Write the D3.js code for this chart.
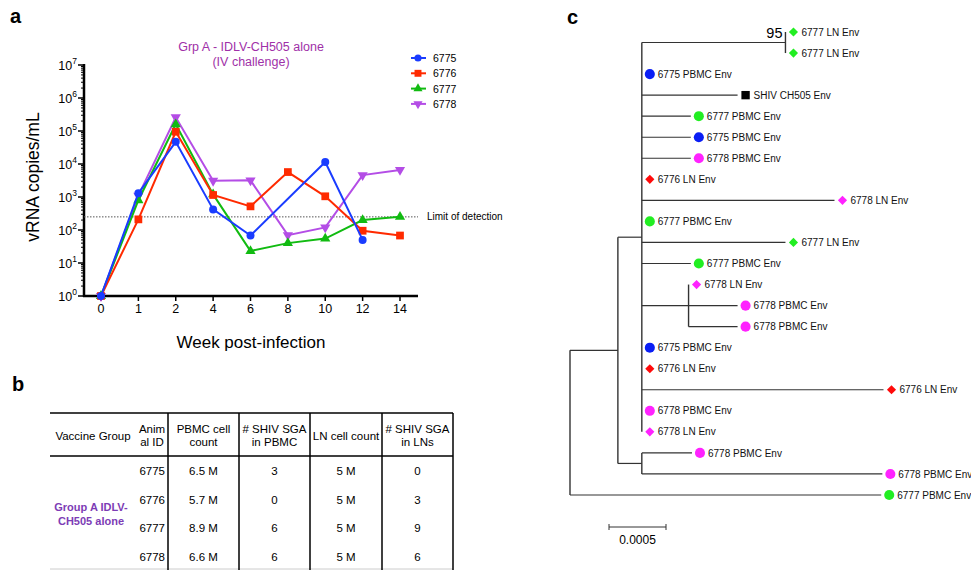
<!DOCTYPE html>
<html>
<head>
<meta charset="utf-8">
<script src="https://cdn.jsdelivr.net/npm/d3@7"></script>
<style>
  body { margin: 0; background: #fff; }
  svg { font-family: Arial, "Liberation Sans", sans-serif; }
</style>
</head>
<body>
<div id="chart"></div>
<script>
var width = 971;
var height = 570;

// ---- panel a data (vRNA copies/mL, null = not measured)
var weeks = ["0", "1", "2", "4", "6", "8", "10", "12", "14"];
var animals = ["6775", "6776", "6777", "6778"];
var v6775 = [1, 1300, 47000, 420, 68, null, 11500, 50, null];
var v6776 = [1, 210, 95000, 1150, 520, 5700, 1050, 95, 68];
var v6777 = [1, 800, 160000, 1200, 23, 40, 55, 200, 250];
var v6778 = [1, 1100, 260000, 3100, 3200, 70, 120, 4600, 6600];
var limitOfDetection = 250;
var yTicks = [1, 10, 100, 1000, 10000, 100000, 1000000, 10000000];

// ---- panel b data
var tableHeaders = [["Vaccine Group"], ["Anim", "al ID"], ["PBMC cell", "count"], ["# SHIV SGA", "in PBMC"], ["LN cell count"], ["# SHIV SGA", "in LNs"]];
var animalIds = ["6775", "6776", "6777", "6778"];
var pbmcCounts = ["6.5 M", "5.7 M", "8.9 M", "6.6 M"];
var pbmcSga = ["3", "0", "6", "6"];
var lnCounts = ["5 M", "5 M", "5 M", "5 M"];
var lnSga = ["0", "3", "9", "6"];
var groupLabel = ["Group A IDLV-", "CH505 alone"];

// ---- panel c data: tips in top-to-bottom order, tree with branch lengths
var tipNames = ["6777 LN Env", "6777 LN Env", "6775 PBMC Env", "SHIV CH505 Env", "6777 PBMC Env",
  "6775 PBMC Env", "6778 PBMC Env", "6776 LN Env", "6778 LN Env", "6777 PBMC Env", "6777 LN Env",
  "6777 PBMC Env", "6778 LN Env", "6778 PBMC Env", "6778 PBMC Env", "6775 PBMC Env", "6776 LN Env",
  "6776 LN Env", "6778 PBMC Env", "6778 LN Env", "6778 PBMC Env", "6778 PBMC Env", "6777 PBMC Env"];
var tree = { len: 0, children: [
  { len: 0.00042, children: [
    { len: 0.00021, children: [
      { len: 0.00126, support: "95", children: [{ len: 0, tip: 0 }, { len: 0, tip: 1 }] },
      { len: 0, tip: 2 },
      { len: 0.00084, tip: 3 },
      { len: 0.00043, tip: 4 },
      { len: 0.00043, tip: 5 },
      { len: 0.00043, tip: 6 },
      { len: 0, tip: 7 },
      { len: 0.00169, tip: 8 },
      { len: 0, tip: 9 },
      { len: 0.00126, tip: 10 },
      { len: 0.00043, tip: 11 },
      { len: 0.00041, children: [{ len: 0, tip: 12 }, { len: 0.00043, tip: 13 }, { len: 0.00043, tip: 14 }] },
      { len: 0, tip: 15 },
      { len: 0, tip: 16 },
      { len: 0.00212, tip: 17 },
      { len: 0, tip: 18 },
      { len: 0, tip: 19 }
    ] },
    { len: 0.00021, children: [{ len: 0.00044, tip: 20 }, { len: 0.00211, tip: 21 }] }
  ] },
  { len: 0.00273, tip: 22 }
] };

var animalColor = { "6775": "#0a1ef5", "6776": "#ff0a0a", "6777": "#22ee22", "6778": "#ff22ff", "SHIV": "#000" };

var svg = d3.select("#chart").append("svg")
  .attr("width", width)
  .attr("height", height);

// panel letters
[["a", 10, 23], ["b", 12, 391], ["c", 567, 24]].forEach(function(p) {
  svg.append("text").attr("x", p[1]).attr("y", p[2])
    .style("font-size", "20px").style("font-weight", "bold").text(p[0]);
});

// ================= panel a =================
var x = d3.scalePoint().domain(weeks).range([101, 400]);
var y = d3.scaleLog().domain([1, 1e7]).range([296, 65]);
var axisLeft = 84, axisRight = 418;

var ga = svg.append("g");

// y axis with minor log ticks
var minor = [];
for (var d = 0; d < 7; d++) for (var m = 2; m <= 9; m++) minor.push(m * Math.pow(10, d));
ga.selectAll(".minor").data(minor).enter().append("line")
  .attr("x1", axisLeft - 3).attr("x2", axisLeft)
  .attr("y1", function(v) { return y(v); }).attr("y2", function(v) { return y(v); })
  .attr("stroke", "#000").attr("stroke-width", 1);
ga.selectAll(".major").data(yTicks).enter().append("line")
  .attr("x1", axisLeft - 6).attr("x2", axisLeft)
  .attr("y1", function(v) { return y(v); }).attr("y2", function(v) { return y(v); })
  .attr("stroke", "#000").attr("stroke-width", 1.5);
var yl = ga.selectAll(".ylab").data(yTicks).enter().append("text")
  .attr("x", axisLeft - 7).attr("y", function(v) { return y(v) + 5; })
  .attr("text-anchor", "end").style("font-size", "12.5px");
yl.append("tspan").text("10");
yl.append("tspan").attr("dy", -6).style("font-size", "8.5px").text(function(v) { return Math.round(Math.log10(v)); });

ga.append("line").attr("x1", axisLeft).attr("x2", axisLeft).attr("y1", 64).attr("y2", 297)
  .attr("stroke", "#000").attr("stroke-width", 2.5);

// x axis
ga.append("line").attr("x1", axisLeft - 1).attr("x2", axisRight).attr("y1", 296).attr("y2", 296)
  .attr("stroke", "#000").attr("stroke-width", 2.5);
ga.selectAll(".xt").data(weeks).enter().append("line")
  .attr("x1", function(w) { return x(w); }).attr("x2", function(w) { return x(w); })
  .attr("y1", 296).attr("y2", 301).attr("stroke", "#000").attr("stroke-width", 1.5);
ga.selectAll(".xl").data(weeks).enter().append("text")
  .attr("x", function(w) { return x(w); }).attr("y", 313)
  .attr("text-anchor", "middle").style("font-size", "12.5px").text(function(w) { return w; });

ga.append("text").attr("x", 251).attr("y", 348).attr("text-anchor", "middle")
  .style("font-size", "17px").text("Week post-infection");
ga.append("text").attr("transform", "translate(39,177) rotate(-90)").attr("text-anchor", "middle")
  .style("font-size", "17.5px").text("vRNA copies/mL");

ga.append("text").attr("x", 251).attr("y", 51).attr("text-anchor", "middle")
  .style("font-size", "12.5px").attr("fill", "#a030a8").text("Grp A - IDLV-CH505 alone");
ga.append("text").attr("x", 251).attr("y", 66).attr("text-anchor", "middle")
  .style("font-size", "12.5px").attr("fill", "#a030a8").text("(IV challenge)");

// limit of detection
ga.append("line").attr("x1", axisLeft).attr("x2", axisRight)
  .attr("y1", y(limitOfDetection)).attr("y2", y(limitOfDetection))
  .attr("stroke", "#555").attr("stroke-width", 1).attr("stroke-dasharray", "1.5,1.5");
ga.append("text").attr("x", 427).attr("y", y(limitOfDetection) + 3.5)
  .style("font-size", "10px").text("Limit of detection");

var series = [
  { name: "6775", values: v6775, color: "#1a3cff", shape: d3.symbolCircle, size: 50, rot: 0 },
  { name: "6776", values: v6776, color: "#ff2a00", shape: d3.symbolSquare, size: 60, rot: 0 },
  { name: "6777", values: v6777, color: "#11bb11", shape: d3.symbolTriangle, size: 45, rot: 0 },
  { name: "6778", values: v6778, color: "#b44de6", shape: d3.symbolTriangle, size: 45, rot: 180 }
];

var line = d3.line().x(function(p) { return x(p.w); }).y(function(p) { return y(p.v); });

// draw order: purple, green, red, blue on top
[3, 2, 1, 0].forEach(function(i) {
  var s = series[i];
  var pts = weeks.map(function(w, j) { return { w: w, v: s.values[j] }; })
    .filter(function(p) { return p.v != null; });
  ga.append("path").datum(pts).attr("d", line)
    .attr("fill", "none").attr("stroke", s.color).attr("stroke-width", 2);
  ga.selectAll(".pt" + i).data(pts).enter().append("path")
    .attr("d", d3.symbol().type(s.shape).size(s.size))
    .attr("transform", function(p) { return "translate(" + x(p.w) + "," + y(p.v) + ") rotate(" + s.rot + ")"; })
    .attr("fill", s.color);
});

// legend
var lg = ga.selectAll(".lg").data(series).enter().append("g")
  .attr("transform", function(s, i) { return "translate(418," + (58 + i * 15.3) + ")"; });
lg.append("line").attr("x1", -7).attr("x2", 8).attr("stroke", function(s) { return s.color; }).attr("stroke-width", 2);
lg.append("path").attr("d", function(s) { return d3.symbol().type(s.shape).size(s.size * 0.8)(); })
  .attr("transform", function(s) { return "rotate(" + s.rot + ")"; })
  .attr("fill", function(s) { return s.color; });
lg.append("text").attr("x", 15).attr("y", 4).style("font-size", "10.5px").text(function(s) { return s.name; });

// ================= panel b =================
var gb = svg.append("g").style("font-size", "11.5px");
var colEdges = [50, 136, 168, 239, 310, 382, 453];
var colCenters = [93, 152, 203.5, 274.5, 346, 417.5];
var tableTop = 413, headerBottom = 456, tableBottom = 570;
var rowY = d3.scalePoint().domain(animalIds).range([471, 557]);

gb.append("line").attr("x1", 50).attr("x2", 453).attr("y1", tableTop).attr("y2", tableTop)
  .attr("stroke", "#000").attr("stroke-width", 1.5);
gb.append("line").attr("x1", 50).attr("x2", 453).attr("y1", headerBottom).attr("y2", headerBottom)
  .attr("stroke", "#000").attr("stroke-width", 1.5);
gb.append("line").attr("x1", 50).attr("x2", 453).attr("y1", 569).attr("y2", 569)
  .attr("stroke", "#ccc").attr("stroke-width", 1);
gb.selectAll(".vl").data(colEdges.slice(2)).enter().append("line")
  .attr("x1", function(e) { return e; }).attr("x2", function(e) { return e; })
  .attr("y1", tableTop).attr("y2", tableBottom).attr("stroke", "#000").attr("stroke-width", 1.5);

tableHeaders.forEach(function(h, i) {
  h.forEach(function(t, k) {
    var yy = h.length === 1 ? 440 : 433 + k * 13;
    gb.append("text").attr("x", colCenters[i]).attr("y", yy)
      .attr("text-anchor", "middle").text(t);
  });
});

var cols = [pbmcCounts, pbmcSga, lnCounts, lnSga];
animalIds.forEach(function(id, r) {
  gb.append("text").attr("x", 165).attr("y", rowY(id) + 4).attr("text-anchor", "end").text(id);
  cols.forEach(function(c, k) {
    gb.append("text").attr("x", colCenters[k + 2]).attr("y", rowY(id) + 4)
      .attr("text-anchor", "middle").text(c[r]);
  });
});
groupLabel.forEach(function(t, k) {
  gb.append("text").attr("x", 91).attr("y", 511 + k * 14).attr("text-anchor", "middle")
    .style("font-size", "11px").style("font-weight", "bold").attr("fill", "#7d3cb5").text(t);
});

// ================= panel c =================
var gc = svg.append("g");
var root = d3.hierarchy(tree);
root.eachBefore(function(n) { n.dist = (n.parent ? n.parent.dist : 0) + n.data.len; });
var tx = d3.scaleLinear().domain([0, 0.0005]).range([570, 627]);
var ty = d3.scaleLinear().domain([0, tipNames.length - 1]).range([32, 495]);
root.eachAfter(function(n) {
  if (n.children) {
    n.yy = (n.children[0].yy + n.children[n.children.length - 1].yy) / 2;
  } else {
    n.yy = ty(n.data.tip);
  }
});

var treeStroke = "#333";
root.descendants().forEach(function(n) {
  var nx = tx(n.dist);
  if (n.parent) {
    gc.append("line").attr("x1", tx(n.parent.dist)).attr("x2", nx).attr("y1", n.yy).attr("y2", n.yy)
      .attr("stroke", treeStroke).attr("stroke-width", 1.2);
  }
  if (n.children) {
    gc.append("line").attr("x1", nx).attr("x2", nx)
      .attr("y1", n.children[0].yy).attr("y2", n.children[n.children.length - 1].yy)
      .attr("stroke", treeStroke).attr("stroke-width", 1.4);
  }
  if (n.data.support) {
    gc.append("text").attr("x", nx - 3).attr("y", n.children[0].yy + 6)
      .attr("text-anchor", "end").style("font-size", "14.5px").text(n.data.support);
  }
});

root.leaves().forEach(function(n) {
  var name = tipNames[n.data.tip];
  var key = name.indexOf("SHIV") === 0 ? "SHIV" : name.slice(0, 4);
  var isLN = name.indexOf(" LN ") > 0;
  var shape = key === "SHIV" || isLN ? d3.symbolSquare : d3.symbolCircle;
  var size = key === "SHIV" ? 70 : (isLN ? 42 : 80);
  var mx = tx(n.dist) + 8;
  gc.append("path").attr("d", d3.symbol().type(shape).size(size)())
    .attr("transform", "translate(" + mx + "," + n.yy + ")" + (isLN ? " rotate(45)" : ""))
    .attr("fill", animalColor[key]);
  gc.append("text").attr("x", mx + 8).attr("y", n.yy + 3.6)
    .style("font-size", "10px").attr("fill", "#111").text(name);
});

// scale bar
var sbx = 609, sby = 527, sbw = tx(0.0005) - tx(0);
gc.append("line").attr("x1", sbx).attr("x2", sbx + sbw).attr("y1", sby).attr("y2", sby).attr("stroke", "#333");
gc.append("line").attr("x1", sbx).attr("x2", sbx).attr("y1", sby - 3).attr("y2", sby + 3).attr("stroke", "#333");
gc.append("line").attr("x1", sbx + sbw).attr("x2", sbx + sbw).attr("y1", sby - 3).attr("y2", sby + 3).attr("stroke", "#333");
gc.append("text").attr("x", sbx + sbw / 2).attr("y", 544).attr("text-anchor", "middle")
  .style("font-size", "12px").text("0.0005");
</script>
</body>
</html>
